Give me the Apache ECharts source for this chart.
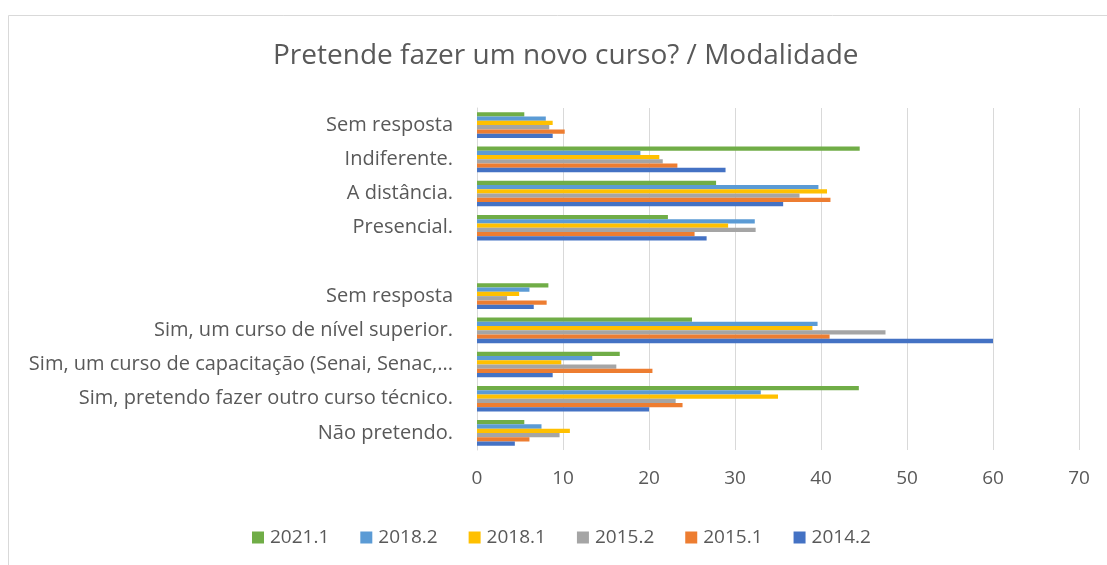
<!DOCTYPE html>
<html>
<head>
<meta charset="utf-8">
<script src="https://cdn.jsdelivr.net/npm/echarts@6/dist/echarts.min.js"></script>
<style>
  html, body { margin: 0; padding: 0; background: #fff; }
  #chart { width: 1107px; height: 565px; }
</style>
</head>
<body>
<div id="chart"></div>
<script>
// Answer categories, listed bottom to top (the empty one separates the two questions)
const categories = [
  "Não pretendo.",
  "Sim, pretendo fazer outro curso técnico.",
  "Sim, um curso de capacitação (Senai, Senac,...",
  "Sim, um curso de nível superior.",
  "Sem resposta",
  "",
  "Presencial.",
  "A distância.",
  "Indiferente.",
  "Sem resposta"
];

// Percentages per survey period, same order as categories
const s2014_2 = [4.4, 20.0, 8.8, 60.0, 6.6, null, 26.7, 35.6, 28.9, 8.8];
const s2015_1 = [6.1, 23.9, 20.4, 41.0, 8.1, null, 25.3, 41.1, 23.3, 10.2];
const s2015_2 = [9.6, 23.1, 16.2, 47.5, 3.5, null, 32.4, 37.5, 21.6, 8.4];
const s2018_1 = [10.8, 35.0, 9.8, 39.0, 4.9, null, 29.2, 40.7, 21.2, 8.8];
const s2018_2 = [7.5, 33.0, 13.4, 39.6, 6.1, null, 32.3, 39.7, 19.0, 8.0];
const s2021_1 = [5.5, 44.4, 16.6, 25.0, 8.3, null, 22.2, 27.8, 44.5, 5.5];

const xTicks = { min: 0, max: 70, step: 10 };

// Series in stacking order inside each group: 2021.1 on top, 2014.2 at the bottom
const seriesDefs = [
  { name: "2021.1", data: s2021_1, color: "#70AD47" },
  { name: "2018.2", data: s2018_2, color: "#5B9BD5" },
  { name: "2018.1", data: s2018_1, color: "#FFC000" },
  { name: "2015.2", data: s2015_2, color: "#A5A5A5" },
  { name: "2015.1", data: s2015_1, color: "#ED7D31" },
  { name: "2014.2", data: s2014_2, color: "#4472C4" }
];

const FONT = "'Open Sans', 'Noto Sans', sans-serif";
const TEXT = "#595959";

const chart = echarts.init(document.getElementById("chart"), null, { renderer: "canvas" });

chart.setOption({
  animation: false,
  backgroundColor: "#ffffff",
  textStyle: { fontFamily: FONT },
  graphic: [
    {
      type: "polyline",
      shape: { points: [[8.5, 565], [8.5, 15.5], [1107, 15.5]] },
      style: { stroke: "#d9d9d9", lineWidth: 1, fill: null },
      silent: true
    }
  ],
  title: {
    text: "Pretende fazer um novo curso? / Modalidade",
    left: 268,
    top: 37,
    textStyle: { fontFamily: FONT, fontSize: 28, fontWeight: "normal", color: TEXT }
  },
  legend: {
    data: seriesDefs.map(s => s.name),
    left: 247,
    top: 523,
    itemWidth: 12,
    itemHeight: 12,
    itemGap: 31,
    icon: "rect",
    textStyle: { fontFamily: FONT, fontSize: 19, color: TEXT, padding: [0, 0, 0, 1] }
  },
  grid: { left: 477, right: 28, top: 108, bottom: 115, containLabel: false },
  xAxis: {
    type: "value",
    min: xTicks.min,
    max: xTicks.max,
    interval: xTicks.step,
    axisLine: { show: false },
    axisTick: { show: false },
    splitLine: { show: true, lineStyle: { color: "#d9d9d9", width: 1 } },
    axisLabel: { fontFamily: FONT, fontSize: 19, color: TEXT, margin: 19 }
  },
  yAxis: {
    type: "category",
    data: categories,
    axisLine: { show: true, lineStyle: { color: "#d9d9d9", width: 1 } },
    axisTick: { show: false },
    axisLabel: { fontFamily: FONT, fontSize: 20, color: TEXT, margin: 24, interval: 0 }
  },
  series: seriesDefs.map(s => ({
    name: s.name,
    type: "bar",
    data: s.data,
    barGap: "0%",
    barCategoryGap: "25%",
    itemStyle: { color: s.color }
  }))
});
</script>
</body>
</html>
